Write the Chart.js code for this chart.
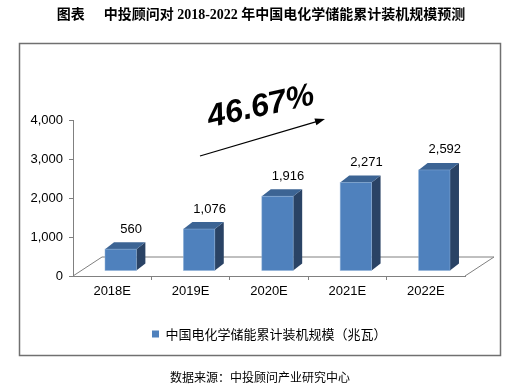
<!DOCTYPE html>
<html>
<head>
<meta charset="utf-8">
<title>中国电化学储能累计装机规模预测</title>
<script src="https://cdn.jsdelivr.net/npm/chart.js@4.4.1/dist/chart.umd.min.js"></script>
<style>
  html, body { margin: 0; padding: 0; background: #fff; }
  #wrap { position: relative; width: 509px; height: 389px; overflow: hidden; }
  #title {
    position: absolute; left: 0; top: 6px; width: 522px; text-align: center;
    font: bold 14px/18px "Liberation Serif", "Noto Sans CJK SC", serif; color: #000;
  }
  #title .gap { display: inline-block; width: 19px; }
  #source {
    position: absolute; left: 0; top: 368px; width: 520px; text-align: center;
    font: 12px/18px "Noto Sans CJK SC", sans-serif; color: #000;
  }
  canvas { position: absolute; left: 0; top: 0; }
</style>
</head>
<body>
<div id="wrap">
  <canvas id="myChart" width="509" height="389"></canvas>
  <div id="title">图表<span class="gap"></span>中投顾问对 2018-2022 年中国电化学储能累计装机规模预测</div>
  <div id="source">数据来源：中投顾问产业研究中心</div>
</div>
<script>
// data
const categories = ['2018E', '2019E', '2020E', '2021E', '2022E'];
const capacity = [560, 1076, 1916, 2271, 2592];
const yTicks = [0, 1000, 2000, 3000, 4000];
const seriesName = '中国电化学储能累计装机规模（兆瓦）';
const growthText = '46.67%';

// colours
const FRONT = '#4f81bd';
const TOP = '#3c6494';
const SIDE = '#2a4365';
const AXIS = '#808080';
const FRAME = '#707070';

// 3d look
const DX = 29, DY = -19;     // floor depth
const OX = 8.5, OY = -5;     // bar plane offset
const BDX = 9, BDY = -7;     // bar depth

const latin = '"Liberation Sans", Arial, sans-serif';

const bar3d = {
  id: 'bar3d',
  afterLayout(chart) {
    // put the legend where the original has it
    const lg = chart.legend;
    const h = lg.height;
    lg.left = 142; lg.right = 142 + lg.width;
    lg.top = 317.5; lg.bottom = lg.top + h;
  },
  beforeDatasetsDraw(chart) {
    // floor of the 3d box
    const {ctx, chartArea} = chart;
    const y0 = chart.scales.y.getPixelForValue(0);
    ctx.save();
    ctx.strokeStyle = AXIS;
    ctx.lineWidth = 1;
    ctx.beginPath();
    ctx.moveTo(chartArea.left, y0);
    ctx.lineTo(chartArea.left + DX, y0 + DY);
    ctx.lineTo(chartArea.right + DX, y0 + DY);
    ctx.lineTo(chartArea.right, y0);
    ctx.stroke();
    ctx.restore();
  },
  beforeDatasetDraw() {
    return false; // bars are drawn below as boxes
  },
  afterDatasetsDraw(chart) {
    const {ctx} = chart;
    const meta = chart.getDatasetMeta(0);
    ctx.save();
    meta.data.forEach((bar, i) => {
      const p = bar.getProps(['x', 'y', 'base', 'width'], true);
      const l = p.x - p.width / 2 + OX, r = p.x + p.width / 2 + OX;
      const t = p.y + OY, b = p.base + OY;
      // side
      ctx.fillStyle = SIDE;
      ctx.beginPath();
      ctx.moveTo(r, b); ctx.lineTo(r + BDX, b + BDY);
      ctx.lineTo(r + BDX, t + BDY); ctx.lineTo(r, t);
      ctx.closePath(); ctx.fill();
      // top
      ctx.fillStyle = TOP;
      ctx.beginPath();
      ctx.moveTo(l, t); ctx.lineTo(l + BDX, t + BDY);
      ctx.lineTo(r + BDX, t + BDY); ctx.lineTo(r, t);
      ctx.closePath(); ctx.fill();
      // front
      ctx.fillStyle = FRONT;
      ctx.fillRect(l, t, r - l, b - t);
      ctx.strokeStyle = 'rgba(140,175,215,0.6)';
      ctx.lineWidth = 0.8;
      ctx.strokeRect(l, t, r - l, b - t);
      // value label
      ctx.fillStyle = '#000';
      ctx.font = '13px ' + latin;
      ctx.textAlign = 'center';
      ctx.textBaseline = 'middle';
      ctx.fillText(capacity[i].toLocaleString('en-US'), p.x + 19, p.y - 25);
    });
    ctx.restore();
  },
  afterDraw(chart) {
    const {ctx} = chart;
    ctx.save();
    // outer frame
    ctx.strokeStyle = FRAME;
    ctx.lineWidth = 1.5;
    ctx.strokeRect(19.5, 43.5, 481, 312);
    // growth arrow
    const x1 = 200, y1 = 156, x2 = 325, y2 = 119;
    const a = Math.atan2(y2 - y1, x2 - x1);
    ctx.strokeStyle = '#000';
    ctx.fillStyle = '#000';
    ctx.lineWidth = 1.3;
    ctx.beginPath();
    ctx.moveTo(x1, y1);
    ctx.lineTo(x2 - 8 * Math.cos(a), y2 - 8 * Math.sin(a));
    ctx.stroke();
    ctx.beginPath();
    ctx.moveTo(x2, y2);
    ctx.lineTo(x2 - 10 * Math.cos(a) + 3.5 * Math.sin(a), y2 - 10 * Math.sin(a) - 3.5 * Math.cos(a));
    ctx.lineTo(x2 - 10 * Math.cos(a) - 3.5 * Math.sin(a), y2 - 10 * Math.sin(a) + 3.5 * Math.cos(a));
    ctx.closePath();
    ctx.fill();
    // growth text
    ctx.translate(261, 107);
    ctx.rotate(-0.215);
    ctx.font = 'italic bold 32px ' + latin;
    ctx.textAlign = 'center';
    ctx.textBaseline = 'middle';
    ctx.fillText(growthText, 0, 0);
    ctx.restore();
  }
};

const chart = new Chart(document.getElementById('myChart'), {
  type: 'bar',
  data: {
    labels: categories,
    datasets: [{
      label: seriesName,
      data: capacity,
      backgroundColor: FRONT,
      borderWidth: 0,
      barPercentage: 0.4,
      categoryPercentage: 1
    }]
  },
  options: {
    responsive: false,
    animation: false,
    events: [],
    layout: { padding: { left: 0, right: 44, top: 120, bottom: 50 } },
    plugins: {
      legend: {
        position: 'bottom',
        align: 'start',
        labels: {
          boxWidth: 7,
          boxHeight: 7,
          padding: 10,
          color: '#000',
          font: { size: 13, family: '"Noto Sans CJK SC", sans-serif' }
        }
      },
      tooltip: { enabled: false }
    },
    scales: {
      x: {
        grid: {
          offset: true,
          drawOnChartArea: false,
          tickLength: 4,
          color: c => (c.type !== 'tick' || c.index === 0) ? 'rgba(0,0,0,0)' : AXIS
        },
        border: { color: AXIS, width: 1 },
        ticks: { color: '#000', padding: 4, font: { size: 13, family: latin } },
        afterFit: s => { s.height = 30; }
      },
      y: {
        min: 0,
        max: 4000,
        afterBuildTicks: s => { s.ticks = yTicks.map(v => ({ value: v })); },
        grid: { drawOnChartArea: false, tickLength: 4, color: AXIS },
        border: { color: AXIS, width: 1 },
        ticks: {
          color: '#000',
          padding: 6,
          font: { size: 13, family: latin },
          callback: v => v.toLocaleString('en-US')
        },
        afterFit: s => { s.width = 73; }
      }
    }
  },
  plugins: [bar3d]
});
</script>
</body>
</html>
